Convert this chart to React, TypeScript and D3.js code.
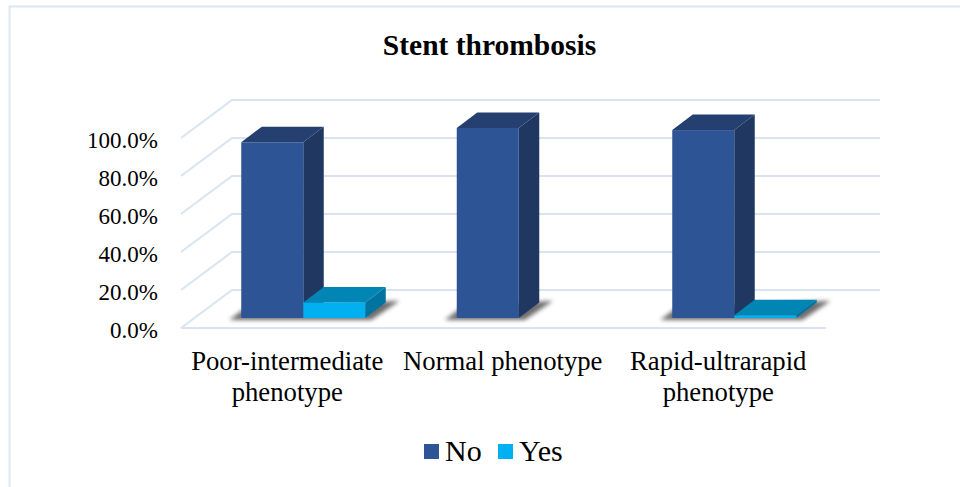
import React from "react";
import * as d3 from "d3";

const categories = ["Poor-intermediate phenotype", "Normal phenotype", "Rapid-ultrarapid phenotype"];
const categoryLines = [["Poor-intermediate", "phenotype"], ["Normal phenotype"], ["Rapid-ultrarapid", "phenotype"]];
const seriesNames = ["No", "Yes"];
const noValues = [92.5, 100, 98.9];
const yesValues = [8.2, 0, 1.4];
const yTicks = [0, 20, 40, 60, 80, 100];
const title = "Stent thrombosis";

const colors = {
  No: { front: "#2D5494", side: "#1F3761", top: "#243F70" },
  Yes: { front: "#00B0F0", side: "#0074A0", top: "#0085B5" },
};
const grid = "#D9E4F2";
const FONT = "'Liberation Serif', 'Times New Roman', serif";
const DX = 20.5;
const DY = -15.5;

const yWall = d3.scaleLinear().domain([0, 100]).range([328, 138]);
const yBar = d3.scaleLinear().domain([0, 100]).range([318, 128]);
const xGroup = d3.scaleBand<string>().domain(categories).range([195.5, 842]);
const barWidth = 62;

function Bar({ x, value, c }: { x: number; value: number; c: { front: string; side: string; top: string } }) {
  const y0 = yBar(0);
  const y1 = yBar(value);
  const p = (pts: number[][]) => pts.map((q) => q.join(",")).join(" ");
  return (
    <g>
      {value > 0 && (
        <polygon
          points={p([[x + barWidth, y1], [x + barWidth + DX, y1 + DY], [x + barWidth + DX, y0 + DY], [x + barWidth, y0]])}
          fill={c.side}
        />
      )}
      <polygon
        points={p([[x, y1], [x + DX, y1 + DY], [x + barWidth + DX, y1 + DY], [x + barWidth, y1]])}
        fill={c.top}
      />
      <rect x={x} y={y1} width={barWidth} height={y0 - y1} fill={c.front} />
    </g>
  );
}

export default function App() {
  const cx = (c: string) => (xGroup(c) as number) + xGroup.bandwidth() / 2;
  return (
    <svg
      width={960}
      height={487}
      style={{ position: "absolute", left: 0, top: 0, display: "block", background: "#fff" }}
      fontFamily={FONT}
    >
      <defs>
        <filter id="blur" x="-20%" y="-100%" width="140%" height="300%">
          <feGaussianBlur stdDeviation="2.2" />
        </filter>
      </defs>
      <path d="M9.5 487V6.5H960" fill="none" stroke="#DEE8F5" strokeWidth={2} />
      <text x={489.5} y={55} textAnchor="middle" fontSize={29.5} fontWeight="bold" fill="#000">
        {title}
      </text>

      {yTicks.map((t) => {
        const y = yWall(t);
        return (
          <g key={t}>
            <polyline
              points={`181,${y} ${181 + 51},${y - 38} 880,${y - 38}`}
              fill="none"
              stroke={grid}
              strokeWidth={2}
            />
            <text x={158} y={y + 10} textAnchor="end" fontSize={23} fill="#000">
              {t.toFixed(1)}%
            </text>
          </g>
        );
      })}
      <line x1={181} x2={826} y1={328} y2={328} stroke={grid} strokeWidth={2} />

      {categories.map((c, i) => {
        const center = cx(c);
        const hasYes = yesValues[i] > 0;
        const right = center + (hasYes ? barWidth : 0);
        const left = center - barWidth;
        return (
          <g key={c}>
            <polygon
              points={`${left - 12},320 ${left + 4},308 ${right + 30},301 ${right + 34},301 ${right + 6},320`}
              fill="#4a4a4a"
              opacity={0.8}
              filter="url(#blur)"
            />
            <Bar x={left} value={noValues[i]} c={colors.No} />
            {hasYes && <Bar x={center} value={yesValues[i]} c={colors.Yes} />}
          </g>
        );
      })}

      {categories.map((c, i) => (
        <text key={c} textAnchor="middle" fontSize={26.7} fill="#000">
          {categoryLines[i].map((line, j) => (
            <tspan key={line} x={cx(c) - 16} y={370 + j * 31}>
              {line}
            </tspan>
          ))}
        </text>
      ))}

      {seriesNames.map((name, i) => {
        const x = [424, 498][i];
        return (
          <g key={name}>
            <rect x={x} y={444} width={15} height={15} fill={colors[name as "No" | "Yes"].front} />
            <text x={x + 21} y={461} fontSize={30} fill="#000">
              {name}
            </text>
          </g>
        );
      })}
    </svg>
  );
}
